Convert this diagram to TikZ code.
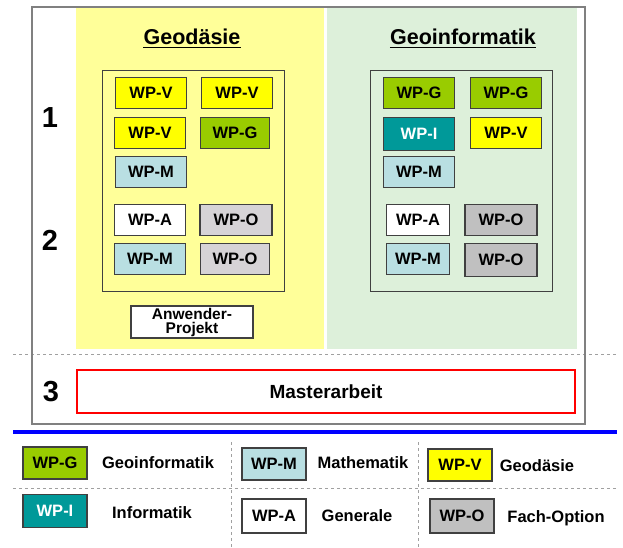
\documentclass[tikz,border=0pt]{standalone}
\usepackage{fontspec}
\setmainfont{Liberation Sans}
\usepackage{tikz}
\usepackage{xcolor}
\definecolor{bgyellow}{HTML}{FFFF99}
\definecolor{bggreen}{HTML}{DDF0DA}
\definecolor{cv}{HTML}{FFFF00}
\definecolor{cg}{HTML}{99CC00}
\definecolor{ci}{HTML}{009999}
\definecolor{cm}{HTML}{B9DFE2}
\definecolor{co}{HTML}{C0C0C0}
\definecolor{colight}{HTML}{D6D3D6}
\definecolor{edge}{HTML}{404040}
\definecolor{dashgray}{HTML}{A0A0A0}

\begin{document}
\begin{tikzpicture}[x=1pt,y=-1pt]%
  \tikzstyle{wp}=[rectangle,draw=edge,line width=1.2pt,minimum width=71pt,minimum height=31pt,inner sep=0,font=\fontsize{16.5}{16.5}\selectfont\bfseries]
  \tikzstyle{wpv}=[wp,fill=cv]
  \tikzstyle{wpg}=[wp,fill=cg]
  \tikzstyle{wpi}=[wp,fill=ci,text=white]
  \tikzstyle{wpm}=[wp,fill=cm]
  \tikzstyle{wpa}=[wp,fill=white]
  \tikzstyle{wpo}=[wp,fill=co]
  \tikzstyle{head}=[anchor=base,inner sep=0,font=\fontsize{21.5}{21.5}\selectfont\bfseries]
  \tikzstyle{num}=[font=\fontsize{29}{29}\selectfont\bfseries]
  \tikzstyle{leg}=[font=\fontsize{16.5}{16.5}\selectfont\bfseries]
  \tikzstyle{dashline}=[draw=dashgray,line width=0.9pt,dash pattern=on 3pt off 3pt]
  \useasboundingbox (0,0) rectangle (623,547);
  % panels
  \fill[bgyellow] (76,7) rectangle (324,349);
  \fill[bggreen] (327,7) rectangle (577,349);
  \draw[dashline] (13,354) -- (617,354);
  \draw[draw=gray,line width=1.2pt] (32,7) rectangle (585,424);
  \draw[draw=edge,line width=0.9pt] (102,70) rectangle (284,291);
  \draw[draw=edge,line width=0.9pt] (370,70) rectangle (552,291);
  % headings
  \node(hgeo)[head] at (192,44) {Geodäsie};
  \node(hinf)[head] at (463,44) {Geoinformatik};
  \draw[line width=1.6pt] ([yshift=-3.5pt]hgeo.base west) -- ([yshift=-3.5pt]hgeo.base east);
  \draw[line width=1.6pt] ([yshift=-3.5pt]hinf.base west) -- ([yshift=-3.5pt]hinf.base east);
  % semesters
  \node(n1)[num] at (50,118) {1};
  \node(n2)[num] at (50,240) {2};
  \node(n3)[num] at (51,392) {3};
  % Geodaesie
  \node(gv1)[wpv] at (151,93) {WP-V};
  \node(gv2)[wpv] at (237,93) {WP-V};
  \node(gv3)[wpv] at (150,133) {WP-V};
  \node(gg1)[wpg,minimum width=69pt] at (235,133) {WP-G};
  \node(gm1)[wpm] at (151,172) {WP-M};
  \node(ga1)[wpa] at (150,220) {WP-A};
  \node(go1)[wpo,fill=colight,minimum width=72pt] at (236,220) {WP-O};
  \node(gm2)[wpm] at (150,259) {WP-M};
  \node(go2)[wpo,fill=colight,minimum width=69pt] at (235,259) {WP-O};
  \node(proj)[wp,fill=white,minimum width=122pt,minimum height=32pt,align=center,
    font=\fontsize{15.5}{14}\selectfont\bfseries] at (192,322) {Anwender-\\Projekt};
  % Geoinformatik
  \node(ig1)[wpg] at (419,93) {WP-G};
  \node(ig2)[wpg] at (506,93) {WP-G};
  \node(ii1)[wpi,minimum height=33pt] at (419,134) {WP-I};
  \node(iv1)[wpv] at (506,133) {WP-V};
  \node(im1)[wpm] at (419,172) {WP-M};
  \node(ia1)[wpa,minimum width=63pt] at (418,220) {WP-A};
  \node(io1)[wpo,minimum width=72pt] at (501,220) {WP-O};
  \node(im2)[wpm,minimum width=63pt] at (418,259) {WP-M};
  \node(io2)[wpo,minimum width=72pt,minimum height=33pt] at (501,260) {WP-O};
  % thesis
  \node(ma)[draw=red,line width=2.2pt,minimum width=498pt,minimum height=43pt,
    font=\fontsize{19}{19}\selectfont\bfseries] at (326,391.5) {Masterarbeit};
  % legend
  \draw[blue,line width=3.5pt] (13,432) -- (617,432);
  \draw[dashline] (13,488) -- (617,488);
  \draw[dashline] (231,442) -- (231,547);
  \draw[dashline] (418,442) -- (418,547);
  \node(lg)[wpg,minimum width=64pt,minimum height=32pt] at (55,463) {WP-G};
  \node(li)[wpi,minimum width=64pt,minimum height=33pt] at (55,511) {WP-I};
  \node(lm)[wpm,minimum width=64pt,minimum height=32pt] at (274,464) {WP-M};
  \node(la)[wpa,minimum width=64pt,minimum height=34pt] at (274,516) {WP-A};
  \node(lv)[wpv,minimum width=64pt,minimum height=32pt] at (460,465) {WP-V};
  \node(lo)[wpo,minimum width=64pt,minimum height=34pt] at (462,516) {WP-O};
  \node(tg)[leg] at (158,463) {Geoinformatik};
  \node(ti)[leg] at (152,513) {Informatik};
  \node(tm)[leg] at (363,463) {Mathematik};
  \node(ta)[leg] at (357,516) {Generale};
  \node(tv)[leg] at (537,466) {Geodäsie};
  \node(to)[leg] at (556,518) {Fach-Option};
\end{tikzpicture}
\end{document}
